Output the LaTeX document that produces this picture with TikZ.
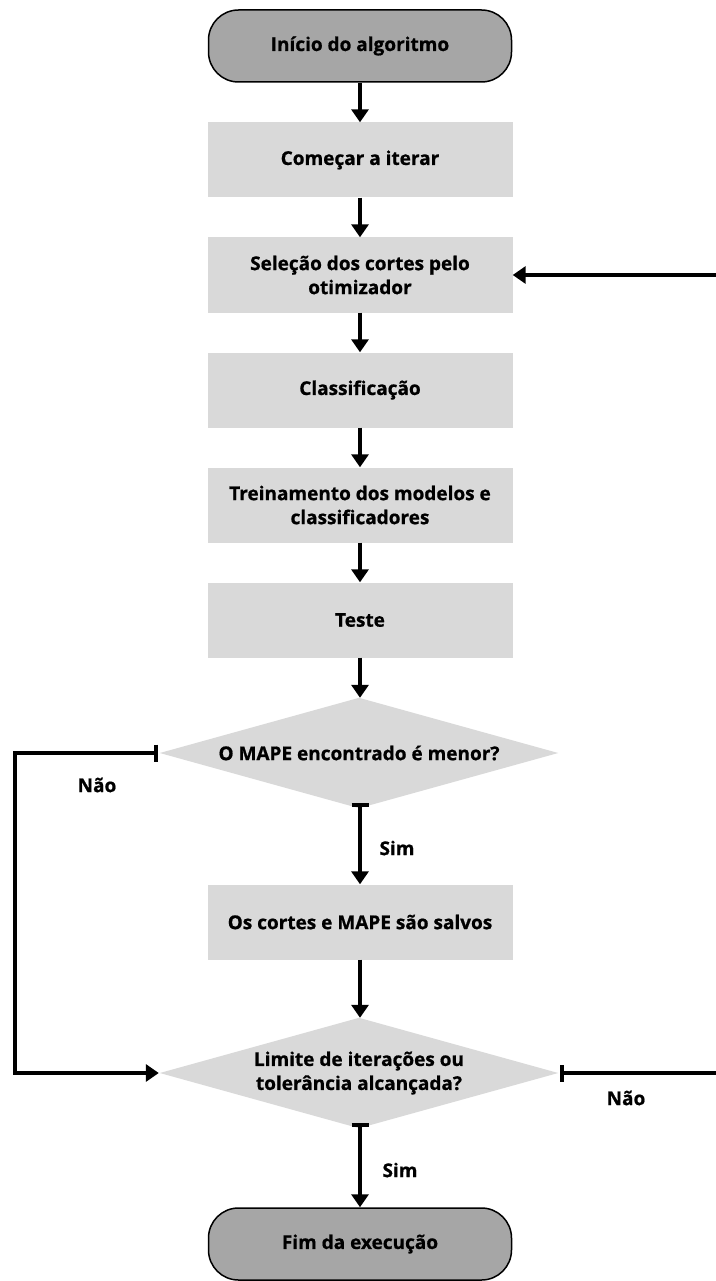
\documentclass[tikz,border=0pt]{standalone}
\usepackage{fontspec}
\setmainfont{Open Sans}[BoldFeatures={FakeBold=0.8}]
\usetikzlibrary{arrows.meta,backgrounds}
\definecolor{termfill}{HTML}{A6A6A6}
\definecolor{boxfill}{HTML}{D9D9D9}
\begin{document}
\begin{tikzpicture}[x=1pt,y=-1pt,
  txt/.style={font=\fontsize{19}{24}\selectfont\bfseries, text=black},
  term/.style={txt, rounded corners=30pt, draw=black, line width=1.5pt, fill=termfill, minimum width=303pt, minimum height=72pt, inner sep=0pt},
  procbox/.style={txt, fill=boxfill, minimum width=305pt, minimum height=75pt, inner sep=0pt, align=center},
  decision/.style={txt, minimum width=398pt, minimum height=110pt, inner sep=0pt, align=center},
  decfill/.style={fill=boxfill},
  tip/.tip={Triangle[width=17pt,length=13pt]},
  flow/.style={line width=3.5pt, -tip},
  barflow/.style={line width=3.5pt, {Bar[width=17pt,line width=3.5pt]}-tip},
  loopflow/.style={barflow, line join=miter},
  lbl/.style={txt}
]
\useasboundingbox (0,0) rectangle (715,1281);
\node[term] (start) at (360,46) {Início do algoritmo};
\node[procbox] (b1) at (360,160) {Começar a iterar};
\node[procbox] (b2) at (360,275) {Seleção dos cortes pelo\\otimizador};
\node[procbox] (b3) at (360,390) {Classificação};
\node[procbox] (b4) at (360,505) {Treinamento dos modelos e\\classificadores};
\node[procbox] (b5) at (360,620) {Teste};
\node[decision] (d1) at (359,753) {O MAPE encontrado é menor?};
\node[procbox] (b6) at (360,922) {Os cortes e MAPE são salvos};
\node[decision] (d2) at (359,1073) {Limite de iterações ou\\tolerância alcançada?};
\node[term] (fim) at (360,1244) {Fim da execução};
\begin{scope}[on background layer]
  \fill[decfill] (d1.north) -- (d1.east) -- (d1.south) -- (d1.west) -- cycle;
  \fill[decfill] (d2.north) -- (d2.east) -- (d2.south) -- (d2.west) -- cycle;
\end{scope}

\coordinate (lcor1) at (15,753);
\coordinate (lcor2) at (15,1073);
\coordinate (rcor1) at (720,1073);
\coordinate (rcor2) at (720,275);

\draw[flow] (start.south) -- (b1.north);
\draw[flow] (b1.south) -- (b2.north);
\draw[flow] (b2.south) -- (b3.north);
\draw[flow] (b3.south) -- (b4.north);
\draw[flow] (b4.south) -- (b5.north);
\draw[flow] (b5.south) -- (b5.south |- d1.north);
\draw[barflow] ([yshift=5pt]b6.north |- d1.south) -- (b6.north);
\draw[flow] (b6.south) -- (b6.south |- d2.north);
\draw[barflow] ([yshift=5pt]fim.north |- d2.south) -- (fim.north);
\draw[loopflow] ([xshift=-2pt]d1.west) -- (lcor1) -- (lcor2) -- ([xshift=-1pt]d2.west);
\draw[loopflow] ([xshift=2pt]d2.east) -- (rcor1) -- (rcor2) -- (b2.east);

\node[lbl] (nao1) at (97,785) {Não};
\node[lbl] (sim1) at (397,848) {Sim};
\node[lbl] (nao2) at (626,1098) {Não};
\node[lbl] (sim2) at (400,1170) {Sim};
\end{tikzpicture}
\end{document}
